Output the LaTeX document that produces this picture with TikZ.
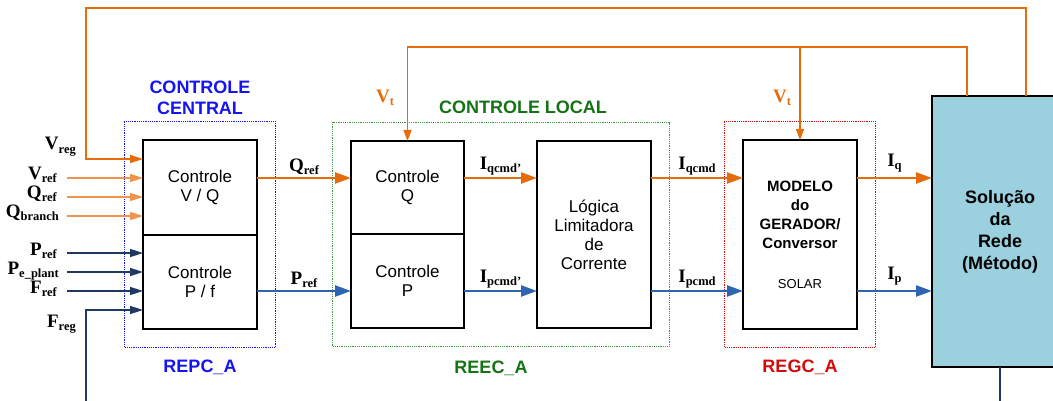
\documentclass[tikz,border=0pt]{standalone}
\usepackage{fontspec}
\setmainfont{Liberation Serif}
\setsansfont{Liberation Sans}
\usetikzlibrary{arrows.meta, positioning, fit}
\definecolor{orng}{RGB}{228,108,10}
\definecolor{lorng}{RGB}{238,148,78}
\definecolor{pblue}{RGB}{46,100,176}
\definecolor{dblue}{RGB}{31,58,98}
\definecolor{netfill}{RGB}{155,208,222}
\definecolor{cblue}{RGB}{20,20,240}
\definecolor{cgreen}{RGB}{20,115,20}
\definecolor{dgreen}{RGB}{60,150,60}
\definecolor{cred}{RGB}{210,10,10}
\newcommand{\sg}[2]{#1\raisebox{-3pt}{\fontsize{12.5}{12.5}\selectfont #2}}

\begin{document}
\begin{tikzpicture}[x=1pt, y=1pt,
			blk/.style={draw, line width=2.2pt, outer sep=0pt, inner sep=0pt, minimum width=114pt, align=center, font=\sffamily\fontsize{17}{19}\selectfont},
			group/.style={draw, densely dotted, line width=1.2pt, inner sep=18.5pt},
			tag/.style={align=center, font=\sffamily\bfseries\fontsize{18}{21}\selectfont},
			sig/.style={font=\bfseries\fontsize{19}{21}\selectfont, inner sep=1pt},
			qarrow/.style={-{Triangle[length=16pt, width=11pt]}, line width=2.4pt, draw=orng},
			parrow/.style={-{Triangle[length=16pt, width=11pt]}, line width=2.4pt, draw=pblue},
			qin/.style={-{Triangle[length=13pt, width=8pt]}, line width=1.6pt, draw=lorng},
			pin/.style={-{Triangle[length=13pt, width=8pt]}, line width=1.6pt, draw=dblue},
			fback/.style={line width=1.5pt, draw=orng},
			vtarrow/.style={-{Triangle[length=11pt, width=8pt]}, line width=1.5pt, draw=orng}
			]
			\useasboundingbox (0,0) rectangle (1053,-401);
			
			\node[blk, minimum height=95pt, anchor=north west] (vq) at (143,-140) {Controle\\V / Q};
			\node[blk, minimum height=94pt, below=0pt of vq] (pf) {Controle\\P / f};
			\node[blk, minimum width=113pt, minimum height=93pt, anchor=north west] (qc) at (351,-141) {Controle\\Q};
			\node[blk, minimum width=113pt, minimum height=94pt, below=0pt of qc] (pc) {Controle\\P};
			\node[blk, minimum height=187pt, anchor=north west] (lim) at (537,-141) {Lógica\\Limitadora\\de\\Corrente};
			\node[blk, minimum height=189pt, anchor=north west] (gen) at (743,-140) {\bfseries\fontsize{15}{19}\selectfont MODELO\\\bfseries\fontsize{15}{19}\selectfont do\\\bfseries\fontsize{15}{19}\selectfont GERADOR/\\\bfseries\fontsize{15}{19}\selectfont Conversor\\[21pt]\fontsize{13}{19}\selectfont SOLAR};
			\node[blk, fill=netfill, minimum width=136pt, minimum height=271pt, anchor=north west, font=\sffamily\bfseries\fontsize{18}{22}\selectfont] (net) at (932,-96) {Solução\\da\\Rede\\(Método)};
			
			\node[group, draw=cblue, fit=(vq)(pf)] (repc) {};
			\node[group, draw=dgreen, fit=(qc)(pc)(lim)] (reec) {};
			\node[group, draw=cred, fit=(gen)] (regc) {};
			
			\node[tag, text=cblue, above=3pt of repc] (central) {CONTROLE\\CENTRAL};
			\node[tag, text=cgreen, above=5pt of reec, xshift=22pt] (local) {CONTROLE LOCAL};
			\node[tag, text=cblue, below=8pt of repc] (repclab) {REPC\_A};
			\node[tag, text=cgreen, below=10pt of reec, xshift=-10pt] (reeclab) {REEC\_A};
			\node[tag, text=cred, below=8pt of regc] (regclab) {REGC\_A};
			
			% rows of the two channels and the feedback buses
			\coordinate (rowq) at (0,-178);
			\coordinate (rowp) at (0,-291);
			\coordinate (fbtop) at (86,-8);
			\coordinate (vtbus) at (0,-47);
			\coordinate (bottom) at (0,-405);
			
			% inputs of the central control
			\coordinate (vrefin) at (67,-178);
			\coordinate (qrefin) at (67,-197);
			\coordinate (qbrin) at (67,-216);
			\coordinate (prefin) at (67,-253);
			\coordinate (pein) at (67,-272);
			\coordinate (frefin) at (67,-291);
			\coordinate (fregin) at (86,-405);
			
			\draw[fback, -{Triangle[length=13pt, width=8pt]}, line width=1.6pt] ([xshift=26pt]net.north) |- (fbtop) |- (vq.west |- 0,-159);
			\draw[qin] (vrefin) -- (vrefin -| vq.west);
			\draw[qin] (qrefin) -- (qrefin -| vq.west);
			\draw[qin] (qbrin) -- (qbrin -| vq.west);
			\draw[pin] (prefin) -- (prefin -| pf.west);
			\draw[pin] (pein) -- (pein -| pf.west);
			\draw[pin] (frefin) -- (frefin -| pf.west);
			\draw[pin] (fregin) |- (pf.west |- 0,-310);
			
			\node[sig, anchor=base east] (vreglab) at (77,-150) {\sg{V}{reg}};
			\node[sig, anchor=base east] (vreflab) at ([xshift=-9pt, yshift=-2pt]vrefin) {\sg{V}{ref}};
			\node[sig, anchor=base east] (qreflab) at ([xshift=-9pt, yshift=-2pt]qrefin) {\sg{Q}{ref}};
			\node[sig, anchor=base east] (qbrlab) at ([xshift=-7pt, yshift=-2pt]qbrin) {\sg{Q}{branch}};
			\node[sig, anchor=base east] (preflab) at ([xshift=-9pt, yshift=-2pt]prefin) {\sg{P}{ref}};
			\node[sig, anchor=base east] (pelab) at ([xshift=-7pt, yshift=-2pt]pein) {\sg{P}{e\_plant}};
			\node[sig, anchor=base east] (freflab) at ([xshift=-9pt, yshift=-2pt]frefin) {\sg{F}{ref}};
			\node[sig, anchor=base east] (freglab) at (77,-327) {\sg{F}{reg}};
			
			% channels Q and P
			\draw[qarrow] (vq.east |- rowq) -- node[sig, above=1pt] (qout) {\sg{Q}{ref}} (qc.west |- rowq);
			\draw[parrow] (pf.east |- rowp) -- node[sig, above=1pt] (pout) {\sg{P}{ref}} (pc.west |- rowp);
			\draw[qarrow] (qc.east |- rowq) -- node[sig, above=1pt] (iqcl) {\sg{I}{qcmd'}} (lim.west |- rowq);
			\draw[parrow] (pc.east |- rowp) -- node[sig, above=1pt] (ipcl) {\sg{I}{pcmd'}} (lim.west |- rowp);
			\draw[qarrow] (lim.east |- rowq) -- node[sig, above=1pt] (iqc) {\sg{I}{qcmd}} (gen.west |- rowq);
			\draw[parrow] (lim.east |- rowp) -- node[sig, above=1pt] (ipc) {\sg{I}{pcmd}} (gen.west |- rowp);
			\draw[qarrow] (gen.east |- rowq) -- node[sig, above=4pt] (iq) {\sg{I}{q}} (net.west |- rowq);
			\draw[parrow] (gen.east |- rowp) -- node[sig, above=4pt] (ip) {\sg{I}{p}} (net.west |- rowp);
			
			% terminal voltage feedback
			\draw[vtarrow] ([xshift=-33pt]net.north) |- (qc.north |- vtbus) -- (qc.north);
			\draw[vtarrow] (gen.north |- vtbus) -- (gen.north);
			\node[sig, text=orng] (vtq) at (385,-98) {\sg{V}{t}};
			\node[sig, text=orng] (vtg) at (782,-98) {\sg{V}{t}};
			
			\draw[line width=1.5pt, dblue] (net.south) -- (net.south |- bottom);
	\end{tikzpicture}
\end{document}
